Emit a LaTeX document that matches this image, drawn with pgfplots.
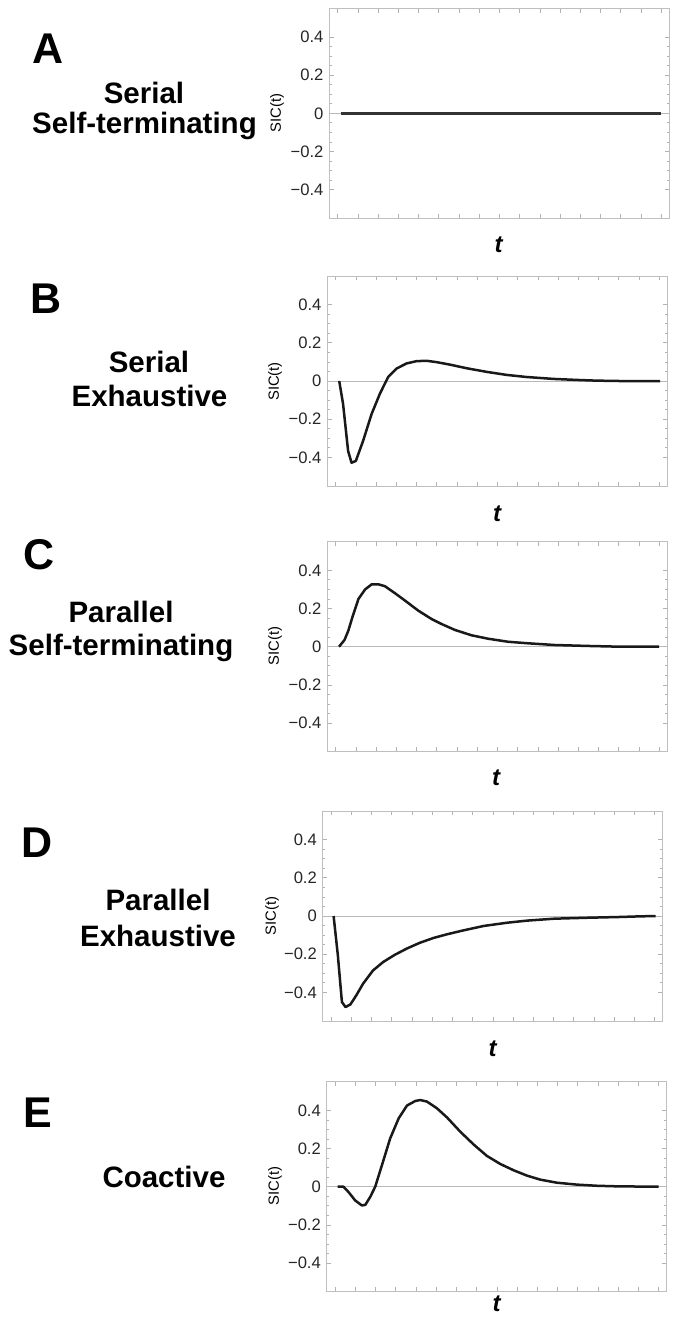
\documentclass[border=0pt]{standalone}
\usepackage{fontspec}
\setmainfont{Liberation Sans}
\usepackage{pgfplots}
\pgfplotsset{compat=1.18}

% one SIC panel, framed Mathematica-like box, t axis unlabelled
\pgfplotsset{sicpanel/.style={
  anchor=north west,
  scale only axis, width=170pt, height=105pt,
  xmin=-0.42, xmax=16.4, ymin=-0.55, ymax=0.55,
  clip=false,
  axis line style={gray!50, line width=0.5pt},
  xtick={0,...,16}, xticklabels={},
  ytick={-0.4,-0.2,0,0.2,0.4},
  yticklabels={−0.4,−0.2,0,0.2,0.4},
  minor y tick num=3,
  tick align=inside,
  major tick length=2.2pt, minor tick length=1.2pt,
  tick style={gray!60, line width=0.4pt},
  tick label style={font=\fontsize{8.3}{10}\selectfont, text=black!85},
  yticklabel style={xshift=0.6pt},
  execute at begin axis={\draw[gray!55, line width=0.5pt] (rel axis cs:0,0.5) -- (rel axis cs:1,0.5);},
},
sicline/.style={black!90, line width=1.25pt, line join=round}}

\begin{document}
\begin{tikzpicture}
\path[use as bounding box] (0,0) rectangle (337.5pt,-665pt);

% A
\begin{axis}[sicpanel, at={(164.65pt,-4.15pt)}]
\addplot[black!80, line width=1.5pt] coordinates {(0.15,0) (16,0)};
\end{axis}

% B
\begin{axis}[sicpanel, at={(163.65pt,-138pt)}]
\addplot[sicline] coordinates {
(0.17,0) (0.36,-0.12) (0.61,-0.367) (0.78,-0.428) (0.99,-0.419) (1.35,-0.314)
(1.77,-0.173) (2.18,-0.067) (2.59,0.021) (3.0,0.065) (3.5,0.092) (3.99,0.104)
(4.49,0.106) (4.98,0.099) (5.64,0.086) (6.47,0.067) (7.46,0.048) (8.45,0.032)
(9.44,0.021) (10.76,0.011) (12.08,0.005) (12.9,0.002) (14.06,0) (16.04,0)};
\end{axis}

% C
\begin{axis}[sicpanel, at={(163.65pt,-270.85pt)}]
\addplot[sicline] coordinates {
(0.16,0) (0.43,0.035) (0.62,0.084) (0.82,0.154) (1.12,0.25) (1.45,0.30)
(1.78,0.327) (2.1,0.327) (2.43,0.317) (2.93,0.28) (3.42,0.242) (4.08,0.189)
(4.74,0.145) (5.23,0.119) (5.89,0.088) (6.71,0.06) (7.53,0.042) (8.52,0.026)
(9.5,0.018) (10.82,0.009) (12.47,0.004) (14.1,0) (16,0)};
\end{axis}

% D
\begin{axis}[sicpanel, at={(161.35pt,-405.5pt)}]
\addplot[sicline] coordinates {
(0.12,0) (0.33,-0.206) (0.53,-0.45) (0.71,-0.477) (0.95,-0.463) (1.24,-0.416)
(1.58,-0.354) (2.07,-0.285) (2.57,-0.241) (3.15,-0.203) (3.73,-0.171) (4.39,-0.14)
(5.06,-0.115) (5.72,-0.096) (6.55,-0.075) (7.55,-0.052) (8.71,-0.035) (9.7,-0.024)
(11.03,-0.014) (12.69,-0.009) (14.3,-0.005) (15.2,-0.002) (16.05,0)};
\end{axis}

% E
\begin{axis}[sicpanel, at={(163.35pt,-540.85pt)}]
\addplot[sicline] coordinates {
(0.12,0) (0.41,0) (0.66,-0.028) (0.99,-0.072) (1.32,-0.098) (1.49,-0.095)
(1.73,-0.054) (1.98,0) (2.31,0.112) (2.72,0.253) (3.14,0.358) (3.55,0.425)
(3.96,0.449) (4.21,0.454) (4.54,0.446) (5.03,0.411) (5.53,0.363) (6.19,0.288)
(6.85,0.221) (7.51,0.161) (8.17,0.119) (8.83,0.086) (9.49,0.058) (10.15,0.037)
(10.97,0.021) (11.96,0.011) (12.95,0.005) (13.94,0.002) (16,0)};
\end{axis}

% panel letters
\begin{scope}[every node/.style={anchor=base west, inner sep=0pt, font=\bfseries\fontsize{21.5}{24}\selectfont}]
\node at (16pt,-31.5pt) {A};
\node at (15pt,-156.5pt) {B};
\node at (11.5pt,-284.8pt) {C};
\node at (10.5pt,-428.5pt) {D};
\node at (11.5pt,-563.5pt) {E};
\end{scope}

% model names
\begin{scope}[every node/.style={anchor=base, inner sep=0pt, font=\bfseries\fontsize{14.75}{17}\selectfont}]
\node at (72pt,-51.5pt) {Serial};
\node at (72.25pt,-66.5pt) {Self-terminating};
\node at (74.5pt,-186pt) {Serial};
\node at (74.75pt,-203.25pt) {Exhaustive};
\node at (60.5pt,-311pt) {Parallel};
\node at (60.5pt,-327.5pt) {Self-terminating};
\node at (79pt,-455pt) {Parallel};
\node at (79pt,-473pt) {Exhaustive};
\node at (82pt,-593.5pt) {Coactive};
\end{scope}

% axis labels
\begin{scope}[every node/.style={rotate=90, inner sep=0pt, font=\fontsize{7.4}{9}\selectfont}]
\node at (138.5pt,-56.6pt) {SIC(t)};
\node at (137.5pt,-190.7pt) {SIC(t)};
\node at (137.5pt,-323pt) {SIC(t)};
\node at (136pt,-458pt) {SIC(t)};
\node at (137.5pt,-593pt) {SIC(t)};
\end{scope}
\begin{scope}[every node/.style={inner sep=0pt, font=\bfseries\itshape\fontsize{12}{14}\selectfont}]
\node at (249.3pt,-122.5pt) {t};
\node at (248.6pt,-257pt) {t};
\node at (248pt,-389pt) {t};
\node at (246.3pt,-524.5pt) {t};
\node at (248.3pt,-652pt) {t};
\end{scope}
\end{tikzpicture}
\end{document}
